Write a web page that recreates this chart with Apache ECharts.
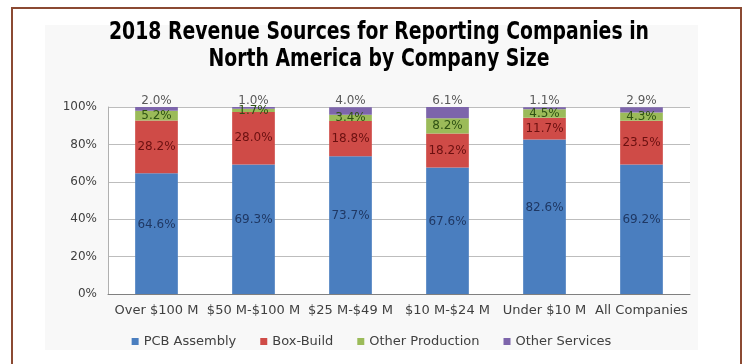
<!DOCTYPE html>
<html>
<head>
<meta charset="utf-8">
<script src="https://cdn.jsdelivr.net/npm/echarts@6/dist/echarts.min.js"></script>
<style>
html,body{margin:0;padding:0;background:#fff;}
#c{width:743px;height:364px;}
</style>
</head>
<body>
<div id="c"></div>
<script>
const categories = ["Over $100 M", "$50 M-$100 M", "$25 M-$49 M", "$10 M-$24 M", "Under $10 M", "All Companies"];
const pcbAssembly = [64.6, 69.3, 73.7, 67.6, 82.6, 69.2];
const boxBuild = [28.2, 28.0, 18.8, 18.2, 11.7, 23.5];
const otherProduction = [5.2, 1.7, 3.4, 8.2, 4.5, 4.3];
const otherServices = [2.0, 1.0, 4.0, 6.1, 1.1, 2.9];
const yTicks = [0, 20, 40, 60, 80, 100];
const titleLines = ['2018 Revenue Sources for Reporting Companies in', 'North America by Company Size'];

const FONT = "DejaVu Sans";
const TITLE_FONT = 'bold 25px "DejaVu Sans Condensed", "DejaVu Sans", sans-serif';
const chart = echarts.init(document.getElementById('c'));

function mkLabel(pos, color, extra) {
  return Object.assign({
    show: true,
    position: pos,
    formatter: p => p.value.toFixed(1) + '%',
    color: color,
    fontFamily: FONT,
    fontSize: 12
  }, extra || {});
}

function seriesOf(name, data, color, label) {
  return {
    name: name,
    type: 'bar',
    stack: 'total',
    data: data,
    barWidth: '44%',
    itemStyle: { color: color },
    label: label
  };
}

// measure title width to match reference span (~540px)
const ctx = document.createElement('canvas').getContext('2d');
ctx.font = TITLE_FONT;
const w1 = ctx.measureText(titleLines[0]).width;
const sx = 540 / w1;

chart.setOption({
  animation: false,
  backgroundColor: '#ffffff',
  graphic: [
    { type: 'rect', z: -10, shape: { x: 45, y: 25, width: 653, height: 325 }, style: { fill: '#f8f8f8' } },
    { type: 'rect', z: 100, shape: { x: 12, y: 8, width: 729, height: 380 }, style: { fill: 'none', stroke: '#8b4a32', lineWidth: 2 } },
    { type: 'text', z: 100, x: 379, y: 32, scaleX: sx, style: { text: titleLines[0], font: TITLE_FONT, fill: '#000', textAlign: 'center', textVerticalAlign: 'middle' } },
    { type: 'text', z: 100, x: 379, y: 59, scaleX: sx, style: { text: titleLines[1], font: TITLE_FONT, fill: '#000', textAlign: 'center', textVerticalAlign: 'middle' } }
  ],
  legend: {
    bottom: 11,
    left: 'center',
    itemWidth: 7,
    itemHeight: 7,
    itemGap: 24,
    icon: 'rect',
    textStyle: { fontFamily: FONT, fontSize: 13, color: '#404040' },
    data: ['PCB Assembly', 'Box-Build', 'Other Production', 'Other Services']
  },
  grid: {
    left: 108, right: 53, top: 107, bottom: 70,
    show: true, backgroundColor: '#ffffff', borderWidth: 0
  },
  xAxis: {
    type: 'category',
    data: categories,
    axisLine: { lineStyle: { color: '#808080', width: 1 } },
    axisTick: { show: false },
    axisLabel: { fontFamily: FONT, fontSize: 13, color: '#404040', margin: 10, interval: 0 }
  },
  yAxis: {
    type: 'value',
    min: yTicks[0],
    max: yTicks[yTicks.length - 1],
    interval: yTicks[1] - yTicks[0],
    axisLine: { show: true, lineStyle: { color: '#b0b0b0' } },
    axisTick: { show: false },
    splitLine: { lineStyle: { color: '#bdbdbd' } },
    axisLabel: { formatter: '{value}%', fontFamily: FONT, fontSize: 12, color: '#404040', margin: 11 }
  },
  series: [
    seriesOf('PCB Assembly', pcbAssembly, '#4a7ebf', mkLabel('inside', '#1f3864', { offset: [0, -9] })),
    seriesOf('Box-Build', boxBuild, '#cf4b47', mkLabel('inside', '#6b1010')),
    seriesOf('Other Production', otherProduction, '#9bbb59', mkLabel('inside', '#2f5214')),
    seriesOf('Other Services', otherServices, '#7d65ab', mkLabel('top', '#595959', { distance: 0 }))
  ]
});
</script>
</body>
</html>
